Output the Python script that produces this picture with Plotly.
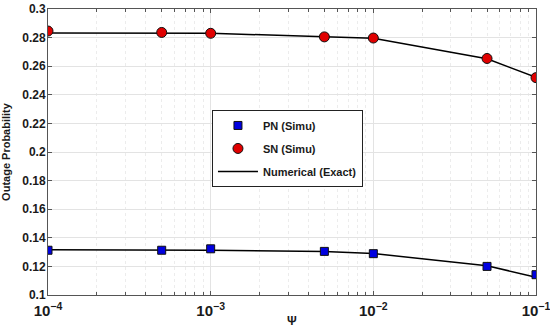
import plotly.graph_objects as go

psi = [1e-4, 5e-4, 1e-3, 5e-3, 1e-2, 5e-2, 1e-1]
pn_simu = [0.1313, 0.1313, 0.1323, 0.1305, 0.1289, 0.1200, 0.1142]
sn_simu = [0.2846, 0.2836, 0.2830, 0.2805, 0.2797, 0.2654, 0.2520]
pn_exact = [0.1316, 0.1315, 0.1313, 0.1305, 0.1290, 0.1205, 0.1124]
sn_exact = [0.2833, 0.2832, 0.2830, 0.2806, 0.2795, 0.2652, 0.2522]
y_tickvals = [0.1, 0.12, 0.14, 0.16, 0.18, 0.2, 0.22, 0.24, 0.26, 0.28, 0.3]
y_ticktext = ["0.1", "0.12", "0.14", "0.16", "0.18", "0.2", "0.22", "0.24", "0.26", "0.28", "0.3"]

FAM = "Liberation Sans, Arial, sans-serif"
font_bold = dict(family=FAM, size=12, color="#1a1a1a", weight="bold")

fig = go.Figure()
fig.add_trace(go.Scatter(x=psi, y=pn_exact, mode="lines", line=dict(color="black", width=1.5),
                         name="Numerical (Exact)", showlegend=False))
fig.add_trace(go.Scatter(x=psi, y=sn_exact, mode="lines", line=dict(color="black", width=1.5),
                         name="Numerical (Exact)", showlegend=False))
fig.add_trace(go.Scatter(x=psi, y=pn_simu, mode="markers", name="PN (Simu)", legendgroup="a",
                         marker=dict(symbol="square", size=8, color="#0000e0", line=dict(color="#101010", width=1))))
fig.add_trace(go.Scatter(x=psi, y=sn_simu, mode="markers", name="SN (Simu)", legendgroup="b",
                         marker=dict(symbol="circle", size=10, color="#e00000", line=dict(color="#101010", width=1))))
fig.add_trace(go.Scatter(x=[None], y=[None], mode="lines", line=dict(color="black", width=1.5),
                         name="Numerical (Exact)", legendgroup="c"))

axis_common = dict(showline=True, linecolor="#555555", linewidth=1, mirror="ticks", ticks="inside",
                   ticklen=4, tickcolor="#555555", tickfont=font_bold, gridcolor="#e3e3e3",
                   zeroline=False, ticklabeloverflow="allow", automargin=False)

fig.update_xaxes(type="log", range=[-4, -1], dtick=1, exponentformat="power",
                 ticklabelstandoff=3,
                 minor=dict(ticks="inside", ticklen=3, tickcolor="#555555", showgrid=True,
                            gridcolor="#ececec", griddash="dot"),
                 **axis_common)
fig.update_yaxes(range=[0.1, 0.3], tickvals=y_tickvals, ticktext=y_ticktext, ticklabelstandoff=-1,
                 title=dict(text="Outage Probability", font=dict(family=FAM, size=11, color="#1a1a1a", weight="bold")),
                 **axis_common)

fig.add_annotation(text="Ψ", xref="paper", yref="paper", x=0.5, y=0, yanchor="middle",
                   yshift=-26, showarrow=False, font=font_bold)

fig.update_layout(
    width=550, height=331,
    margin=dict(l=48, r=14, t=9, b=36),
    paper_bgcolor="white", plot_bgcolor="white",
    showlegend=True,
    legend=dict(x=0.336, y=0.647, xanchor="left", yanchor="top",
                bgcolor="white", bordercolor="#222222", borderwidth=1,
                font=dict(family=FAM, size=11, color="#1a1a1a", weight="bold"),
                traceorder="grouped", tracegroupgap=4, itemwidth=40),
)

fig.write_html("out.html", config={"displayModeBar": False},
               post_script="document.body.style.margin='0';document.body.style.overflow='hidden';")
